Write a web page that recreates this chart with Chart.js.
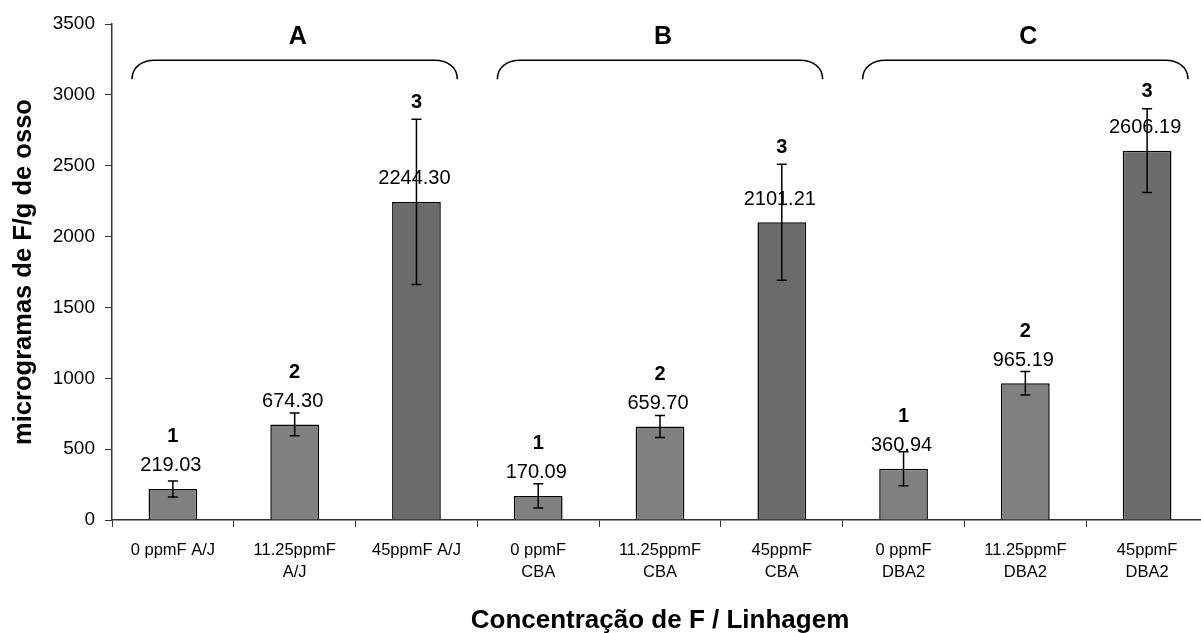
<!DOCTYPE html>
<html><head><meta charset="utf-8">
<script src="https://cdn.jsdelivr.net/npm/chart.js@4/dist/chart.umd.min.js"></script>
<style>html,body{margin:0;padding:0;overflow:hidden;background:#fff}</style>
</head><body>
<canvas id="c" width="1215" height="633" style="width:1215px;height:633px;display:block"></canvas>
<script>
const categories = [['0 ppmF A/J'], ['11.25ppmF', 'A/J'], ['45ppmF A/J'], ['0 ppmF', 'CBA'], ['11.25ppmF', 'CBA'], ['45ppmF', 'CBA'], ['0 ppmF', 'DBA2'], ['11.25ppmF', 'DBA2'], ['45ppmF', 'DBA2']];
const values = [219.03, 674.30, 2244.30, 170.09, 659.70, 2101.21, 360.94, 965.19, 2606.19];
const errors = [56, 80, 583, 85, 77, 410, 120, 83, 296];
const valueLabels = ['219.03', '674.30', '2244.30', '170.09', '659.70', '2101.21', '360.94', '965.19', '2606.19'];
const rankLabels = ['1', '2', '3', '1', '2', '3', '1', '2', '3'];
const groupNames = ['A', 'B', 'C'];
const yMin = 0, yMax = 3500, yStep = 500;
const barColors = ['#808080', '#808080', '#6b6b6b', '#808080', '#808080', '#6b6b6b', '#808080', '#808080', '#6b6b6b'];

const FONT = '"Liberation Sans", Arial, sans-serif';

const annot = {
  id: 'annot',
  afterDatasetsDraw(chart) {
    const ctx = chart.ctx;
    const ys = chart.scales.y, xs = chart.scales.x;
    const meta = chart.getDatasetMeta(0);
    ctx.save();
    meta.data.forEach((bar, i) => {
      const top = bar.y;
      const eTop = ys.getPixelForValue(values[i] + errors[i]);
      const eBot = ys.getPixelForValue(values[i] - errors[i]);
      ctx.fillStyle = '#000';
      ctx.textAlign = 'center';
      ctx.textBaseline = 'middle';
      ctx.font = '20px ' + FONT;
      ctx.fillText(valueLabels[i], bar.x - 2, top - 23);
      ctx.font = 'bold 20px ' + FONT;
      ctx.fillText(rankLabels[i], bar.x, Math.min(top - 52, eTop - 17));
      ctx.strokeStyle = '#000';
      ctx.lineWidth = 1.5;
      ctx.beginPath();
      ctx.moveTo(bar.x, eTop); ctx.lineTo(bar.x, eBot);
      ctx.moveTo(bar.x - 5, eTop); ctx.lineTo(bar.x + 5, eTop);
      ctx.moveTo(bar.x - 5, eBot); ctx.lineTo(bar.x + 5, eBot);
      ctx.stroke();
    });
    // braces
    const yt = ys.getPixelForValue(3245), yb = ys.getPixelForValue(3110), yl = ys.getPixelForValue(3405);
    const cw = xs.getPixelForValue(1) - xs.getPixelForValue(0);
    groupNames.forEach((g, k) => {
      const gl = xs.getPixelForValue(k * 3) - cw / 2;
      const gr = xs.getPixelForValue(k * 3 + 2) + cw / 2;
      const x0 = gl + 20, x1 = gr - 20, rx = 23;
      ctx.strokeStyle = '#000';
      ctx.lineWidth = 1.5;
      ctx.beginPath();
      ctx.moveTo(x0, yb);
      ctx.bezierCurveTo(x0, yb - (yb - yt) * 0.6, x0 + rx * 0.4, yt, x0 + rx, yt);
      ctx.lineTo(x1 - rx, yt);
      ctx.bezierCurveTo(x1 - rx * 0.4, yt, x1, yb - (yb - yt) * 0.6, x1, yb);
      ctx.stroke();
      ctx.fillStyle = '#000';
      ctx.font = 'bold 25px ' + FONT;
      ctx.textAlign = 'center';
      ctx.textBaseline = 'middle';
      ctx.fillText(g, (x0 + x1) / 2 + 3, yl);
    });
    // x axis title, centred on the plot area
    ctx.font = 'bold 26px ' + FONT;
    ctx.textAlign = 'center';
    ctx.textBaseline = 'alphabetic';
    ctx.fillText('Concentração de F / Linhagem', (chart.chartArea.left + chart.chartArea.right) / 2, 628);
    ctx.restore();
  }
};

new Chart(document.getElementById('c'), {
  type: 'bar',
  data: {
    labels: categories,
    datasets: [{
      data: values,
      backgroundColor: barColors,
      borderColor: '#000',
      borderWidth: 1.5,
      barPercentage: 0.4,
      categoryPercentage: 1.0
    }]
  },
  options: {
    responsive: false,
    animation: false,
    devicePixelRatio: 1,
    layout: { padding: { top: 24, right: 7, left: 0, bottom: 0 } },
    plugins: { legend: { display: false }, tooltip: { enabled: false } },
    scales: {
      x: {
        afterFit(s) { s.height = 113; },
        grid: { drawOnChartArea: false, tickLength: 7, color: '#333', offset: true },
        border: { color: '#333', width: 1.5 },
        ticks: { color: '#000', font: { family: FONT, size: 16.5, lineHeight: 1.35 }, padding: 12, maxRotation: 0, autoSkip: false }
      },
      y: {
        min: yMin, max: yMax,
        afterFit(s) { s.width = 112; },
        grid: { drawOnChartArea: false, tickLength: 7, color: '#333' },
        border: { color: '#333', width: 1.5 },
        ticks: { stepSize: yStep, color: '#000', font: { family: FONT, size: 19 }, padding: 10, callback: v => String(v) },
        title: { display: true, text: 'microgramas de F/g de osso', color: '#000', font: { family: FONT, size: 25.5, weight: 'bold', lineHeight: 1.2 }, padding: { top: 9, bottom: 0 } }
      }
    }
  },
  plugins: [annot]
});
</script>
</body></html>
